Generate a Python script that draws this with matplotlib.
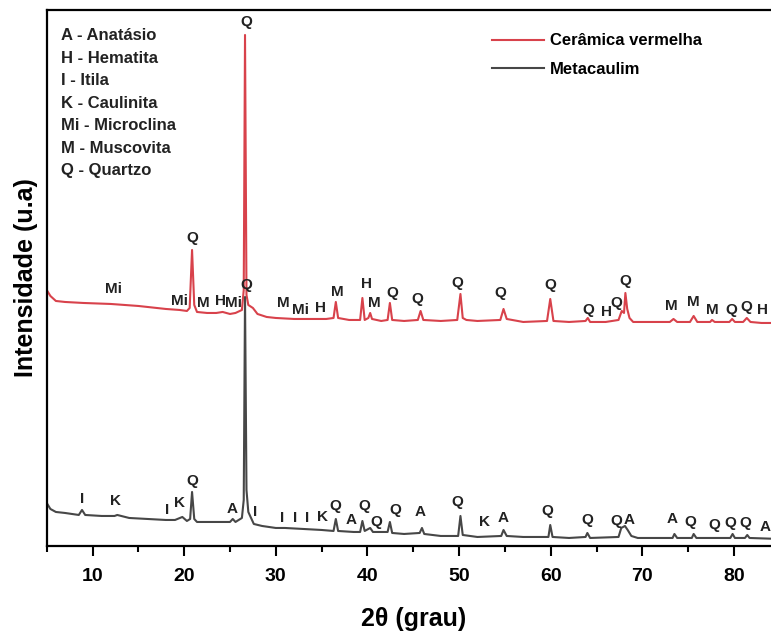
import matplotlib.pyplot as plt
import numpy as np

# difratogramas (2theta, intensidade em u.a.)
red_2t = [5.0, 5.4, 6.0, 7.0, 9.0, 12.0, 15.0, 18.0, 19.5, 20.3, 20.6, 20.86, 21.1, 21.4,
          22.5, 23.5, 24.2, 25.0, 25.6, 26.3, 26.5, 26.64, 26.8, 27.0, 27.5, 28.0, 29.0,
          30.0, 32.0, 34.0, 35.5, 36.3, 36.55, 36.8, 38.0, 39.2, 39.45, 39.7, 40.1, 40.3,
          40.5, 41.5, 42.2, 42.45, 42.7, 44.0, 45.5, 45.8, 46.1, 48.0, 49.8, 50.15, 50.4,
          50.8, 52.0, 54.5, 54.85, 55.2, 57.0, 59.6, 59.95, 60.3, 62.0, 63.8, 64.05, 64.3,
          66.0, 67.4, 67.75, 68.0, 68.15, 68.35, 68.6, 69.0, 71.0, 73.0, 73.4, 73.8, 75.2,
          75.6, 76.0, 77.4, 77.6, 77.9, 79.5, 79.8, 80.1, 81.0, 81.4, 81.8, 83.0, 85.0]
red_int = [256, 250, 245, 244, 243, 242, 240, 237, 236, 235, 238, 296, 241, 234,
           233, 233, 234, 232, 233, 236, 256, 511, 251, 241, 238, 232, 229,
           228, 227, 227, 227, 228, 244, 228, 226, 226, 248, 226, 228, 233,
           227, 225, 226, 243, 226, 225, 226, 235, 226, 225, 226, 252, 228,
           226, 225, 226, 237, 227, 224, 225, 247, 225, 224, 225, 228, 224,
           224, 226, 235, 233, 253, 237, 228, 224, 224, 224, 227, 224, 224,
           230, 224, 224, 226, 224, 224, 227, 224, 224, 228, 224, 223, 223]

black_2t = [5.0, 5.4, 6.0, 7.0, 8.5, 8.85, 9.2, 11.0, 12.4, 12.7, 14.0, 16.0, 18.0, 19.0,
            19.8, 20.3, 20.65, 20.86, 21.1, 21.4, 23.0, 25.0, 25.3, 25.6, 26.3, 26.5,
            26.64, 26.8, 27.0, 27.3, 27.6, 28.5, 30.0, 31.0, 33.0, 35.0, 36.3, 36.55,
            36.8, 38.5, 39.2, 39.45, 39.7, 40.3, 40.6, 42.2, 42.45, 42.7, 44.0, 45.7,
            45.95, 46.2, 48.0, 49.9, 50.15, 50.4, 52.0, 54.6, 54.85, 55.2, 57.0, 59.75,
            59.95, 60.2, 62.0, 63.8, 64.0, 64.3, 67.4, 67.7, 68.1, 68.4, 68.8, 69.5,
            73.3, 73.5, 73.8, 75.4, 75.6, 75.9, 79.6, 79.85, 80.1, 81.2, 81.45, 81.7, 85.0]
black_int = [43, 37, 34, 33, 31, 36, 31, 30, 30, 31, 28, 27, 26, 26,
             29, 25, 27, 54, 27, 24, 24, 24, 27, 24, 28, 46,
             249, 56, 34, 28, 22, 20, 18, 18, 17, 16, 15, 27,
             15, 14, 14, 25, 15, 18, 14, 14, 24, 13, 12, 13,
             18, 12, 10, 10, 30, 11, 9, 10, 16, 10, 9, 9,
             21, 9, 8, 9, 13, 8, 9, 18, 20, 16, 10, 8,
             8, 12, 8, 8, 12, 8, 8, 12, 8, 8, 11, 8, 7]

# identificacao das fases (2theta, intensidade da etiqueta)
red_lbl = ['Mi', 'Mi', 'Q', 'Q', 'M', 'H', 'Mi', 'M', 'Mi', 'H', 'M', 'H', 'M', 'Q', 'Q',
           'Q', 'Q', 'Q', 'Q', 'H', 'Q', 'Q', 'M', 'M', 'M', 'Q', 'Q', 'H']
red_lbl_2t = [12.34, 19.47, 20.93, 26.75, 22.06, 23.91, 25.33, 30.78, 32.72, 34.93, 36.68,
              39.95, 40.71, 42.76, 45.41, 49.77, 54.47, 60.0, 64.07, 66.04, 67.13, 68.1,
              73.2, 75.53, 77.68, 79.75, 81.31, 83.16]
red_lbl_int = [257, 245, 308, 524, 243, 245, 243, 243, 236, 238, 254, 262, 243, 253, 247,
               263, 253, 261, 236, 234, 243, 265, 240, 244, 236, 236, 239, 236]

black_lbl = ['I', 'K', 'I', 'K', 'Q', 'Q', 'A', 'I', 'I', 'I', 'I', 'K', 'Q', 'A', 'Q',
             'Q', 'Q', 'A', 'Q', 'K', 'A', 'Q', 'Q', 'Q', 'A', 'A', 'Q', 'Q', 'Q', 'Q', 'A']
black_lbl_2t = [8.82, 12.56, 18.09, 19.47, 20.93, 26.75, 25.19, 27.73, 30.73, 32.1, 33.44,
                35.07, 36.46, 38.17, 39.66, 40.93, 43.04, 45.77, 49.85, 52.8, 54.76, 59.63,
                64.04, 67.12, 68.57, 73.2, 75.28, 77.82, 79.56, 81.23, 83.35]
black_lbl_int = [47, 45, 36, 43, 65, 261, 37, 34, 28, 28, 28, 29, 40, 26, 40, 24, 36, 34,
                 44, 24, 28, 35, 26, 25, 26, 27, 24, 21, 23, 23, 19]

phases = ['A - Anatásio', 'H - Hematita', 'I - Itila', 'K - Caulinita',
          'Mi - Microclina', 'M - Muscovita', 'Q - Quartzo']

red = '#d8424b'
dark = '#474747'
bold = {'family': ['Liberation Sans', 'DejaVu Sans'], 'weight': 'bold'}
narrow = ['Liberation Sans Narrow', 'Liberation Sans', 'DejaVu Sans']

fig = plt.figure(figsize=(7.71, 6.35), dpi=100)
ax = fig.add_axes([0.0606, 0.1402, 0.9508, 0.8441])

ax.plot(red_2t, red_int, color=red, lw=1.5, label='Cerâmica vermelha')
ax.plot(black_2t, black_int, color=dark, lw=1.5, label='Metacaulim')

for t, x, y in zip(red_lbl, red_lbl_2t, red_lbl_int):
    ax.text(x, y, t, ha='center', va='center', fontsize=11, color='#222222', **bold)
for t, x, y in zip(black_lbl, black_lbl_2t, black_lbl_int):
    ax.text(x, y, t, ha='center', va='center', fontsize=11, color='#222222', **bold)

for i, p in enumerate(phases):
    ax.text(6.6, 510 - i * 22.5, p, ha='left', va='center', fontsize=12,
            color='#222222', **bold)

ax.legend(loc='upper left', bbox_to_anchor=(484 / 771, 1 - 25 / 635),
          bbox_transform=fig.transFigure, frameon=False, handlelength=3.1,
          handletextpad=0.35, borderpad=0, labelspacing=0.8,
          prop={'family': ['Liberation Sans', 'DejaVu Sans'], 'weight': 'bold', 'size': 12})

ax.set_xlim(5, 85)
ax.set_ylim(0, 536)
ax.set_xticks(np.arange(10, 81, 10))
ax.set_xticks(np.arange(5, 86, 10), minor=True)
ax.set_yticks([])
ax.tick_params(axis='x', which='major', direction='out', length=7, width=1.5, pad=9)
ax.tick_params(axis='x', which='minor', direction='out', length=4, width=1.5)
for lab in ax.get_xticklabels():
    lab.set_family(narrow)
    lab.set_weight('bold')
    lab.set_fontsize(14)
for s in ax.spines.values():
    s.set_linewidth(1.6)

ax.set_xlabel('2θ (grau)', fontsize=18, family=narrow, weight='bold', labelpad=16)
ax.set_ylabel('Intensidade (u.a)', fontsize=18, labelpad=6, **bold)

fig.savefig('out.png', dpi=100)
